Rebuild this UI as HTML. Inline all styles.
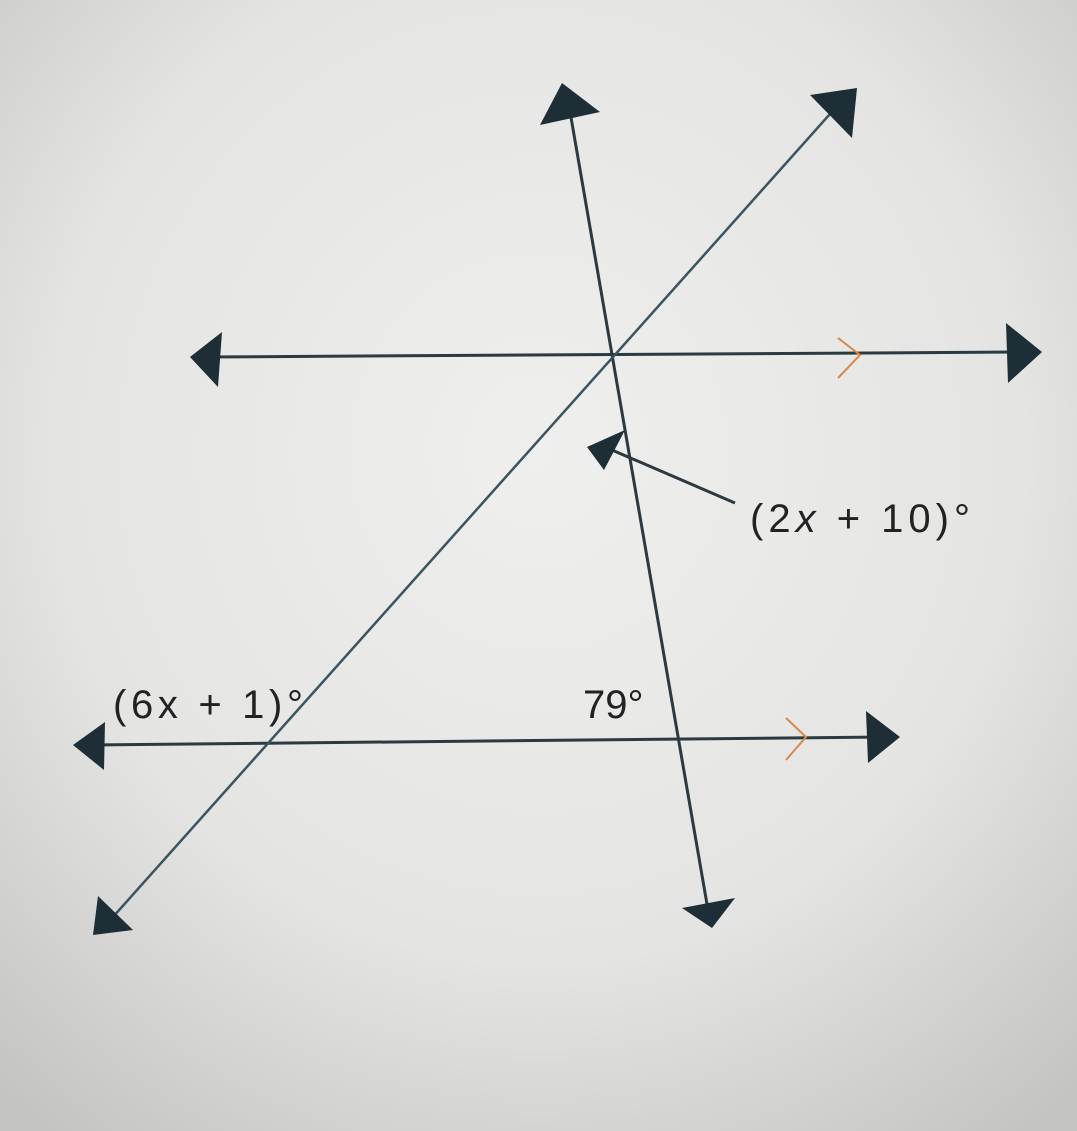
<!DOCTYPE html>
<html><head><style>
html,body{margin:0;padding:0;}
body{width:1077px;height:1131px;overflow:hidden;background:#e6e6e4;}
svg{display:block;}
text{font-family:"Liberation Sans",sans-serif;fill:#222;}
</style></head><body>
<svg width="1077" height="1131" viewBox="0 0 1077 1131">
<defs>
<radialGradient id="bg" cx="50%" cy="40%" r="75%">
<stop offset="0" stop-color="#efefed"/>
<stop offset="0.6" stop-color="#e4e4e2"/>
<stop offset="1" stop-color="#c4c4c2"/>
</radialGradient>
</defs>
<rect width="1077" height="1131" fill="url(#bg)"/>
<g stroke="#2a3a40" stroke-width="3" fill="none">
<line x1="205" y1="357" x2="1025" y2="352"/>
<line x1="90" y1="745" x2="885" y2="737"/>
<line x1="568" y1="100" x2="708" y2="910"/>
<line x1="735" y1="503" x2="605" y2="447"/>
</g>
<line x1="112" y1="918" x2="838" y2="105" stroke="#3a5560" stroke-width="2.5"/>
<g fill="#1e2e36">
<polygon points="190,357 222,332 218,387"/>
<polygon points="1042,352 1006,323 1008,383"/>
<polygon points="73,745 105,722 104,770"/>
<polygon points="900,737 866,711 868,763"/>
<polygon points="93,935 98,896 133,930"/>
<polygon points="857,88 810,95 852,138"/>
<polygon points="562,83 540,125 600,112"/>
<polygon points="712,928 682,908 735,898"/>
<polygon points="587,447 625,430 604,470"/>
</g>
<g stroke="#d9884a" stroke-width="2" fill="none">
<polyline points="838,338 860,355 838,378"/>
<polyline points="786,718 806,737 786,760"/>
</g>
<text x="750" y="532" font-size="40" letter-spacing="2" textLength="222">(2<tspan font-style="italic">x</tspan> + 10)°</text>
<text x="113" y="718" font-size="40" textLength="190" lengthAdjust="spacing">(6x + 1)°</text>
<text x="583" y="718" font-size="40">79°</text>
</svg>
</body></html>
